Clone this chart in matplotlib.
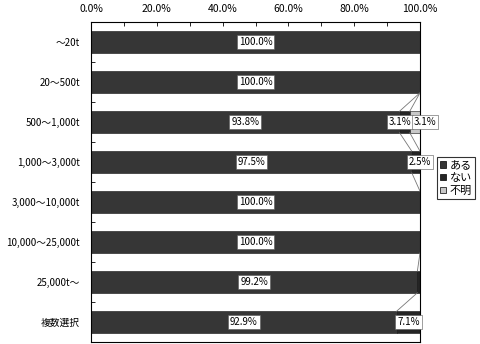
import numpy as np
import matplotlib
matplotlib.use('Agg')
import matplotlib.pyplot as plt
from matplotlib.patches import Patch

plt.rcParams['font.family'] = ['Noto Sans CJK JP', 'DejaVu Sans']

categories = ['～20t', '20～500t', '500～1,000t', '1,000～3,000t',
              '3,000～10,000t', '10,000～25,000t', '25,000t～', '複数選択']
series_names = ['ある', 'ない', '不明']
aru = [100.0, 100.0, 93.8, 97.5, 100.0, 100.0, 99.2, 92.9]
nai = [0.0, 0.0, 3.1, 2.5, 0.0, 0.0, 0.8, 7.1]
fumei = [0.0, 0.0, 3.1, 0.0, 0.0, 0.0, 0.0, 0.0]

# label nudges (in %-units) for the narrow segments
nudge = {(2, 1): -1.5, (2, 2): 3.0, (3, 1): 1.2}
hidden = {(6, 1)}

colors = ['#363636', '#252525', '#c8c8c8']
values = np.array([aru, nai, fumei])

fig = plt.figure(figsize=(4.8, 3.44), dpi=100)
ax = fig.add_axes([91 / 480, 2 / 344, 329 / 480, 320 / 344])

y = np.arange(len(categories))
bar_h = 0.54
left = np.zeros(len(categories))
for k in range(3):
    ax.barh(y, values[k], left=left, height=bar_h, color=colors[k],
            edgecolor='#111111', linewidth=0.4)
    for i in range(len(categories)):
        v = values[k][i]
        if v <= 0 or (i, k) in hidden:
            continue
        xc = left[i] + v / 2 + nudge.get((i, k), 0)
        ax.text(xc, y[i], f'{v:.1f}%', ha='center', va='center', fontsize=7,
                bbox=dict(boxstyle='square,pad=0.2', fc='white', ec='#555555', lw=0.4),
                clip_on=False, zorder=5)
    left = left + values[k]

# series lines between neighbouring bars
cum = np.cumsum(values, axis=0)
for k in range(3):
    for i in range(len(categories) - 1):
        ax.plot([cum[k][i], cum[k][i + 1]], [y[i] + bar_h / 2, y[i + 1] - bar_h / 2],
                color='#777777', lw=0.6, zorder=1)

ax.set_xlim(0, 100)
ax.set_ylim(len(categories) - 0.5, -0.5)
ax.xaxis.tick_top()
ax.set_xticks(np.arange(0, 101, 20))
ax.set_xticks(np.arange(0, 101, 10), minor=True)
ax.set_xticklabels([f'{t:.1f}%' for t in np.arange(0, 101, 20)], fontsize=7.5)
ax.tick_params(axis='x', which='both', direction='in', length=3, pad=6, width=0.6)
ax.set_yticks(y)
ax.set_yticklabels(categories, fontsize=7)
ax.tick_params(axis='y', which='major', length=0, pad=8)
ax.set_yticks(np.arange(0.5, len(categories) - 1, 1), minor=True)
ax.tick_params(axis='y', which='minor', direction='in', length=3, width=0.6)
for s in ax.spines.values():
    s.set_linewidth(0.8)

handles = [Patch(facecolor=c, edgecolor='black', lw=0.5) for c in colors]
leg = fig.legend(handles, series_names, loc='upper left',
                 bbox_to_anchor=(437 / 480, 1 - 157 / 344), fontsize=8,
                 frameon=True, fancybox=False, edgecolor='black',
                 handlelength=0.5, handleheight=0.5, handletextpad=0.35,
                 borderpad=0.3, labelspacing=0.25, borderaxespad=0)
leg.get_frame().set_linewidth(0.8)

fig.savefig('out.png', dpi=100)
